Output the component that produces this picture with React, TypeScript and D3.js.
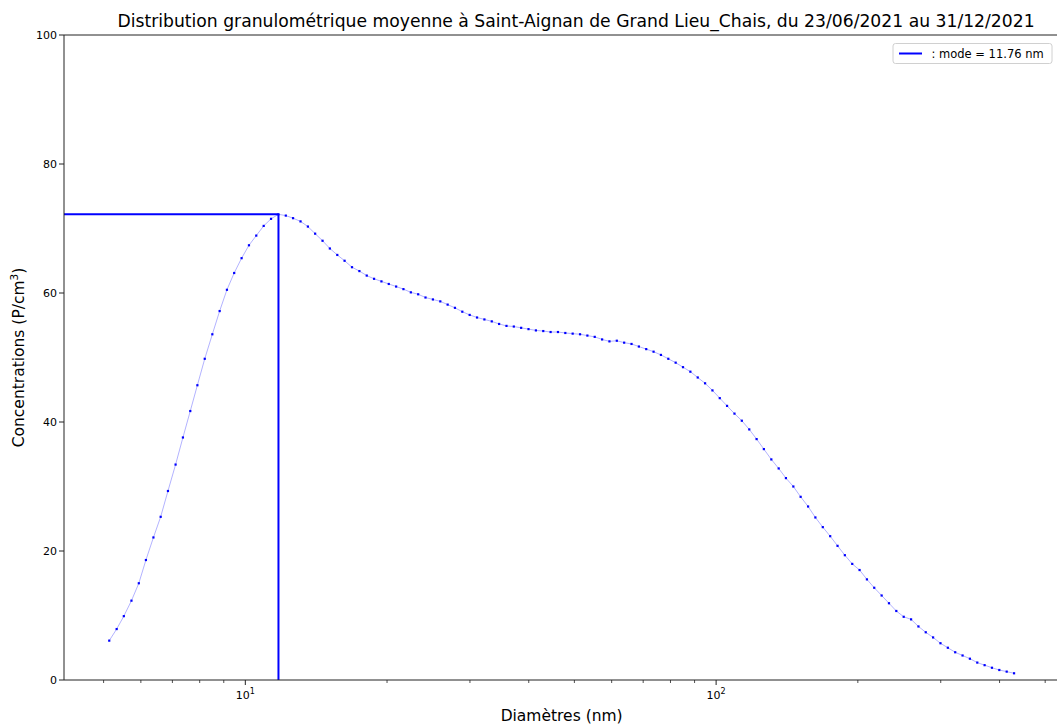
import React from "react";
import * as d3 from "d3";

const diameters = [
  5.14, 5.33, 5.52, 5.73, 5.94, 6.15, 6.38, 6.61, 6.85, 7.11, 7.37, 7.64, 7.91, 8.2, 8.51, 8.82, 9.14, 9.47, 9.82,
  10.18, 10.55, 10.94, 11.34, 11.76, 12.19, 12.63, 13.1, 13.58, 14.07, 14.59, 15.12, 15.68, 16.25, 16.85, 17.47,
  18.11, 18.77, 19.46, 20.17, 20.91, 21.67, 22.47, 23.29, 24.14, 25.03, 25.95, 26.9, 27.88, 28.9, 29.96, 31.06,
  32.2, 33.38, 34.6, 35.87, 37.18, 38.54, 39.95, 41.42, 42.94, 44.51, 46.14, 47.83, 49.58, 51.4, 53.28, 55.23,
  57.26, 59.35, 61.53, 63.78, 66.12, 68.54, 71.05, 73.65, 76.35, 79.15, 82.05, 85.05, 88.17, 91.4, 94.75, 98.22,
  101.8, 105.5, 109.4, 113.4, 117.6, 121.9, 126.3, 131.0, 135.8, 140.7, 145.9, 151.2, 156.8, 162.5, 168.5, 174.7,
  181.1, 187.7, 194.6, 201.7, 209.1, 216.7, 224.7, 232.9, 241.4, 250.3, 259.5, 269.0, 278.8, 289.0, 299.6, 310.6,
  322.0, 333.8, 346.0, 358.7, 371.8, 385.4, 399.5, 414.2, 429.4,
];

const concentrations = [
  6.1, 7.9, 9.9, 12.3, 15.0, 18.6, 22.1, 25.3, 29.3, 33.4, 37.6, 41.7, 45.7, 49.8, 53.6, 57.2, 60.5, 63.1, 65.4,
  67.4, 68.9, 70.4, 71.5, 72.2, 72.0, 71.6, 71.1, 70.3, 69.2, 68.1, 66.9, 65.9, 65.0, 64.0, 63.4, 62.7, 62.2,
  61.8, 61.4, 61.0, 60.6, 60.1, 59.8, 59.3, 59.0, 58.7, 58.2, 57.7, 57.1, 56.6, 56.2, 55.9, 55.6, 55.2, 54.9,
  54.8, 54.6, 54.4, 54.2, 54.1, 53.95, 53.95, 53.8, 53.7, 53.6, 53.4, 53.2, 52.8, 52.5, 52.6, 52.3, 52.1, 51.7,
  51.3, 50.9, 50.4, 49.8, 49.2, 48.5, 47.8, 46.9, 46.0, 44.9,
  43.7, 42.5, 41.3, 40.2, 38.85, 37.35, 35.8, 34.2, 32.8, 31.3, 30.0, 28.4, 26.9, 25.2, 23.7, 22.3, 20.8, 19.35,
  18.0, 17.05, 15.6, 14.3, 13.1, 11.9, 10.7, 9.8, 9.4, 8.3, 7.4, 6.6, 5.7, 5.0, 4.3, 3.8, 3.3, 2.7, 2.3, 1.9,
  1.55, 1.3, 1.04,
];

const yTicks = [0, 20, 40, 60, 80, 100];
const xMajorTicks = [10, 100];
const xMajorExp = ["1", "2"];
const xMinorTicks = [5, 6, 7, 8, 9, 20, 30, 40, 50, 60, 70, 80, 90, 200, 300, 400, 500];
const modeDiameter = 11.76;
const titleText =
  "Distribution granulométrique moyenne à Saint-Aignan de Grand Lieu_Chais, du 23/06/2021 au 31/12/2021";
const xLabel = "Diamètres (nm)";
const legendLabel = ": mode = 11.76 nm";

export default function App() {
  const W = 1057;
  const H = 727;
  const left = 64;
  const right = 1059.3;
  const top = 35;
  const bottom = 680;
  const font = "DejaVu Sans, sans-serif";

  const lmin = Math.log10(d3.min(diameters) as number);
  const lmax = Math.log10(d3.max(diameters) as number);
  const pad = 0.05 * (lmax - lmin);
  const x = d3
    .scaleLog()
    .domain([Math.pow(10, lmin - pad), Math.pow(10, lmax + pad)])
    .range([left, right]);
  const y = d3.scaleLinear().domain([0, 100]).range([bottom, top]);

  const modeIdx = diameters.indexOf(modeDiameter);
  const modeValue = concentrations[modeIdx];

  const line = d3
    .line<number>()
    .x((_, i) => x(diameters[i]))
    .y((d) => y(d));

  return (
    <svg
      width={W}
      height={H}
      style={{ position: "absolute", left: 0, top: 0, display: "block", background: "#fff" }}
      fontFamily={font}
    >
      <rect x={0} y={0} width={W} height={H} fill="#fff" />
      {/* title */}
      <text x={576} y={27} textAnchor="middle" fontSize={17.2} fill="#000">
        {titleText}
      </text>

      {/* data line */}
      <path d={line(concentrations) || ""} fill="none" stroke="rgba(0,0,255,0.3)" strokeWidth={1} />
      {concentrations.map((v, i) => (
        <rect
          key={i}
          x={x(diameters[i]) - 1.1}
          y={y(v) - 1.1}
          width={2.2}
          height={2.2}
          fill="#0000ff"
        />
      ))}

      {/* mode lines */}
      <line
        x1={left}
        x2={x(modeDiameter)}
        y1={y(modeValue)}
        y2={y(modeValue)}
        stroke="#0000ff"
        strokeWidth={2}
      />
      <line
        x1={x(modeDiameter)}
        x2={x(modeDiameter)}
        y1={y(modeValue)}
        y2={y(0)}
        stroke="#0000ff"
        strokeWidth={2}
      />

      {/* spines */}
      <line x1={left} x2={left} y1={top} y2={bottom} stroke="#222" strokeWidth={1} />
      <line x1={left} x2={right} y1={bottom} y2={bottom} stroke="#222" strokeWidth={1} />
      <line x1={left} x2={right} y1={top} y2={top} stroke="#222" strokeWidth={1} />
      <line x1={right} x2={right} y1={top} y2={bottom} stroke="#222" strokeWidth={1} />

      {/* y ticks */}
      {yTicks.map((t) => (
        <g key={t}>
          <line x1={left - 5} x2={left} y1={y(t)} y2={y(t)} stroke="#222" strokeWidth={1} />
          <text x={left - 7} y={y(t) + 4} textAnchor="end" fontSize={11} fill="#000">
            {t}
          </text>
        </g>
      ))}

      {/* x ticks */}
      {xMajorTicks.map((t, i) => (
        <g key={t}>
          <line x1={x(t)} x2={x(t)} y1={bottom} y2={bottom + 5} stroke="#222" strokeWidth={1} />
          <text x={x(t)} y={bottom + 19} textAnchor="middle" fontSize={11} fill="#000">
            10
            <tspan dy={-5} fontSize={8}>
              {xMajorExp[i]}
            </tspan>
          </text>
        </g>
      ))}
      {xMinorTicks.map((t) => (
        <line key={t} x1={x(t)} x2={x(t)} y1={bottom} y2={bottom + 3} stroke="#222" strokeWidth={0.8} />
      ))}

      {/* axis labels */}
      <text x={(left + right) / 2} y={721} textAnchor="middle" fontSize={15.5} fill="#000">
        {xLabel}
      </text>
      <text
        transform={`translate(24, ${(top + bottom) / 2}) rotate(-90)`}
        textAnchor="middle"
        fontSize={15.5}
        fill="#000"
      >
        Concentrations (P/cm
        <tspan dy={-6} fontSize={10.5}>
          3
        </tspan>
        <tspan dy={6}>)</tspan>
      </text>

      {/* legend */}
      <rect x={893} y={43.5} width={159} height={20} rx={2.5} fill="#fff" stroke="#d0d0d0" strokeWidth={1} />
      <line x1={899} x2={922} y1={53.5} y2={53.5} stroke="#0000ff" strokeWidth={2} />
      <text x={931.5} y={57.5} fontSize={11.5} fill="#000">
        {legendLabel}
      </text>
    </svg>
  );
}
